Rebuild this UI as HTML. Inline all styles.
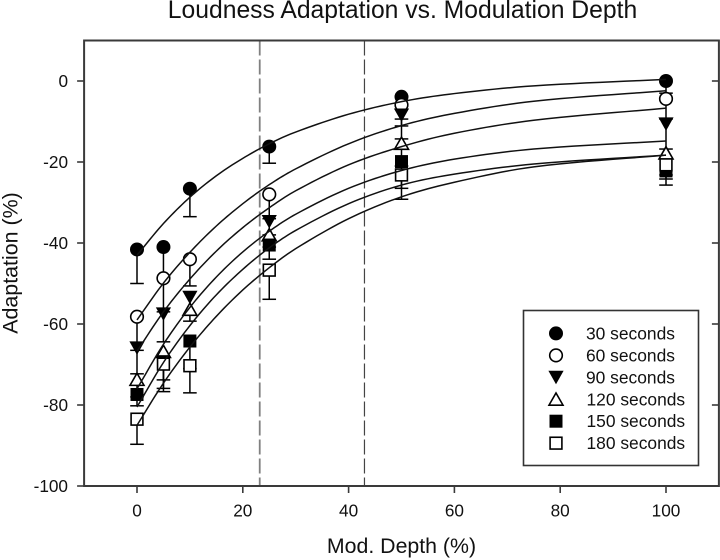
<!DOCTYPE html>
<html lang="en">
<head>
<meta charset="utf-8">
<title>Loudness Adaptation vs. Modulation Depth</title>
<style>
html,body{margin:0;padding:0;background:#fff;width:720px;height:560px;overflow:hidden}
svg{display:block;font-family:"Liberation Sans",Arial,sans-serif}
text{fill:#111}
</style>
</head>
<body>
<svg id="chart" xmlns="http://www.w3.org/2000/svg" width="720" height="560" viewBox="0 0 720 560">
  <text x="402.5" y="18" text-anchor="middle" font-size="24.7">Loudness Adaptation vs. Modulation Depth</text>
  <text x="401.5" y="553" text-anchor="middle" font-size="21.3">Mod. Depth (%)</text>
  <text transform="translate(17.5,263) rotate(-90)" text-anchor="middle" font-size="21.4">Adaptation (%)</text>
  <g id="marks"></g>
  <g id="axes"></g>
  <g id="legend"></g>
</svg>
<script>
const xTickValues = [0, 20, 40, 60, 80, 100];
const yTickValues = [0, -20, -40, -60, -80, -100];
const referenceDepths = [23.2, 43];
const seriesLabels = ["30 seconds", "60 seconds", "90 seconds", "120 seconds", "150 seconds", "180 seconds"];
const seriesShapes = ["circle-filled", "circle-open", "triangle-down", "triangle-up", "square-filled", "square-open"];
const depths = [0, 5, 10, 25, 50, 100];
const mean30 = [-41.6, -41, -26.6, -16.2, -3.9, 0];
const mean60 = [-58.2, -48.7, -44, -28, -5.9, -4.4];
const mean90 = [-65.9, -57.5, -53.4, -34.7, -8.4, -10.6];
const mean120 = [-73.7, -66.8, -56.4, -38, -15.4, -17.8];
const mean150 = [-77.4, -69.3, -64.2, -40.5, -19.9, -22.2];
const mean180 = [-83.5, -69.9, -70.3, -46.7, -23.2, -20.7];
const low30 = [-50, -48.5, -33.5, -20.3, -9.4, -3];
const low60 = [-66.5, -57, -50.6, -34, -11.1, -9.4];
const low90 = [-72.3, -64.4, -57.8, -38, -14.3, -16.8];
const low120 = [-78, -73.8, -59.3, -41, -21, -23.2];
const low150 = [-80.2, -75.9, -71, -44, -26.5, -25.7];
const low180 = [-89.7, -76.7, -77, -53.9, -29.2, -24.2];
const fitDepths = [0, 5, 10, 15, 20, 25, 30, 40, 50, 60, 75, 100];
const fit30 = [-43, -35.2, -28.7, -23.4, -19.1, -15.5, -12.6, -8.2, -5.1, -3.1, -1.2, 0.4];
const fit60 = [-59, -49.9, -42.3, -35.8, -30.3, -25.6, -21.7, -15.5, -11, -8, -5, -2.4];
const fit90 = [-66.7, -57, -48.9, -42, -36.2, -31.3, -27.1, -20.7, -16.2, -12.9, -9.7, -6.7];
const fit120 = [-76, -65, -55.9, -48.4, -42.2, -37.1, -32.9, -26.5, -22.1, -19.3, -16.8, -14.8];
const fit150 = [-80.5, -69.5, -60.4, -52.8, -46.5, -41.2, -36.9, -30.3, -25.7, -23, -20.5, -18.3];
const fit180 = [-85, -74.6, -65.7, -58.1, -51.6, -46.1, -41.4, -34, -28.6, -25, -21.2, -18.3];
const meanSeries = [mean30, mean60, mean90, mean120, mean150, mean180];
const lowSeries = [low30, low60, low90, low120, low150, low180];
const fitSeries = [fit30, fit60, fit90, fit120, fit150, fit180];

const SVG_NS = "http://www.w3.org/2000/svg";
function xScale(v) { return 137 + v * 5.29; }
function yScale(v) { return 81 - v * 4.05; }
function make(tag, parent, attrs) {
  const el = document.createElementNS(SVG_NS, tag);
  for (const k in attrs) el.setAttribute(k, attrs[k]);
  parent.appendChild(el);
  return el;
}
function drawMarker(parent, shape, cx, cy) {
  const ink = "#000";
  let el;
  if (shape === "circle-filled") {
    el = make("circle", parent, { cx: cx, cy: cy, r: 7, fill: ink });
  } else if (shape === "circle-open") {
    el = make("circle", parent, { cx: cx, cy: cy, r: 6.3, fill: "#fff", stroke: ink, "stroke-width": 1.6 });
  } else if (shape === "triangle-down") {
    el = make("polygon", parent, { points: (cx - 7.6) + "," + (cy - 6.5) + " " + (cx + 7.6) + "," + (cy - 6.5) + " " + cx + "," + (cy + 7), fill: ink });
  } else if (shape === "triangle-up") {
    el = make("polygon", parent, { points: (cx - 7) + "," + (cy + 5.9) + " " + (cx + 7) + "," + (cy + 5.9) + " " + cx + "," + (cy - 6.3), fill: "#fff", stroke: ink, "stroke-width": 1.6 });
  } else if (shape === "square-filled") {
    el = make("rect", parent, { x: cx - 6.5, y: cy - 6.5, width: 13, height: 13, fill: ink });
  } else {
    el = make("rect", parent, { x: cx - 5.9, y: cy - 5.9, width: 11.8, height: 11.8, fill: "#fff", stroke: ink, "stroke-width": 1.6 });
  }
  
  
}
function curvePath(xs, ys) {
  const n = xs.length;
  const slopes = [];
  for (let i = 0; i < n; i++) {
    if (i === 0) slopes.push((ys[1] - ys[0]) / (xs[1] - xs[0]));
    else if (i === n - 1) slopes.push((ys[n - 1] - ys[n - 2]) / (xs[n - 1] - xs[n - 2]));
    else slopes.push((ys[i + 1] - ys[i - 1]) / (xs[i + 1] - xs[i - 1]));
  }
  let d = "M" + xScale(xs[0]).toFixed(2) + " " + yScale(ys[0]).toFixed(2);
  for (let i = 0; i < n - 1; i++) {
    const h = xs[i + 1] - xs[i];
    for (let s = 1; s <= 10; s++) {
      const t = s / 10;
      const t2 = t * t;
      const t3 = t2 * t;
      const v = (2 * t3 - 3 * t2 + 1) * ys[i] + (t3 - 2 * t2 + t) * h * slopes[i] +
                (-2 * t3 + 3 * t2) * ys[i + 1] + (t3 - t2) * h * slopes[i + 1];
      d += "L" + xScale(xs[i] + t * h).toFixed(2) + " " + yScale(v).toFixed(2);
    }
  }
  return d;
}

const marks = document.getElementById("marks");
const axes = document.getElementById("axes");
const legend = document.getElementById("legend");

referenceDepths.forEach(function (depth, i) {
  const ref = make("line", marks, {
    x1: xScale(depth), x2: xScale(depth), y1: yScale(10), y2: yScale(-100),
    stroke: i === 0 ? "#808080" : "#444",
    "stroke-width": i === 0 ? 1.8 : 1.2,
    "stroke-dasharray": "15 4"
  });
  
  
});

seriesLabels.forEach(function (label, s) {
  const group = make("g", marks, {});
  
  
  depths.forEach(function (depth, i) {
    const cx = xScale(depth);
    const cy = yScale(meanSeries[s][i]);
    const low = yScale(lowSeries[s][i]);
    const whisker = make("line", group, { x1: cx, x2: cx, y1: cy, y2: low, stroke: "#000", "stroke-width": 1.5 });
    
    
    const cap = make("line", group, { x1: cx - 6.8, x2: cx + 6.8, y1: low, y2: low, stroke: "#000", "stroke-width": 1.5 });
    
    
    drawMarker(group, seriesShapes[s], cx, cy);
  });
});

seriesLabels.forEach(function (label, s) {
  const curve = make("path", marks, { d: curvePath(fitDepths, fitSeries[s]), fill: "none", stroke: "#111", "stroke-width": 1.5 });
  
  
});

const frame = make("rect", axes, {
  x: xScale(-10), y: yScale(10), width: xScale(110) - xScale(-10), height: yScale(-100) - yScale(10),
  fill: "none", stroke: "#3a3a3a", "stroke-width": 2
});



xTickValues.forEach(function (v) {
  const tick = make("line", axes, { x1: xScale(v), x2: xScale(v), y1: yScale(-100), y2: yScale(-100) + 7, stroke: "#3a3a3a", "stroke-width": 1.6 });
  
  
  const lab = make("text", axes, { x: xScale(v), y: 516.5, "text-anchor": "middle", "font-size": 17.2 });
  
  
  lab.textContent = String(v);
});

yTickValues.forEach(function (v) {
  const tick = make("line", axes, { x1: xScale(-10) - 7, x2: xScale(-10), y1: yScale(v), y2: yScale(v), stroke: "#3a3a3a", "stroke-width": 1.6 });
  
  
  const rightTick = make("line", axes, { x1: xScale(110) - 7, x2: xScale(110), y1: yScale(v), y2: yScale(v), stroke: "#3a3a3a", "stroke-width": 1.6 });
  
  
  const lab = make("text", axes, { x: 68, y: yScale(v) + 6, "text-anchor": "end", "font-size": 17.2 });
  
  
  lab.textContent = String(v);
});

const legendBox = make("rect", legend, { x: 523.5, y: 310.5, width: 175, height: 155, fill: "#fff", stroke: "#333", "stroke-width": 1.6 });


seriesLabels.forEach(function (label, s) {
  const rowY = 333.4 + s * 21.95;
  const entry = make("g", legend, {});
  
  
  drawMarker(entry, seriesShapes[s], 556, rowY);
  const txt = make("text", entry, { x: s < 3 ? 586 : 586.5, y: rowY + 6, "font-size": 17.4 });
  
  
  txt.textContent = label;
});
</script>
</body>
</html>
